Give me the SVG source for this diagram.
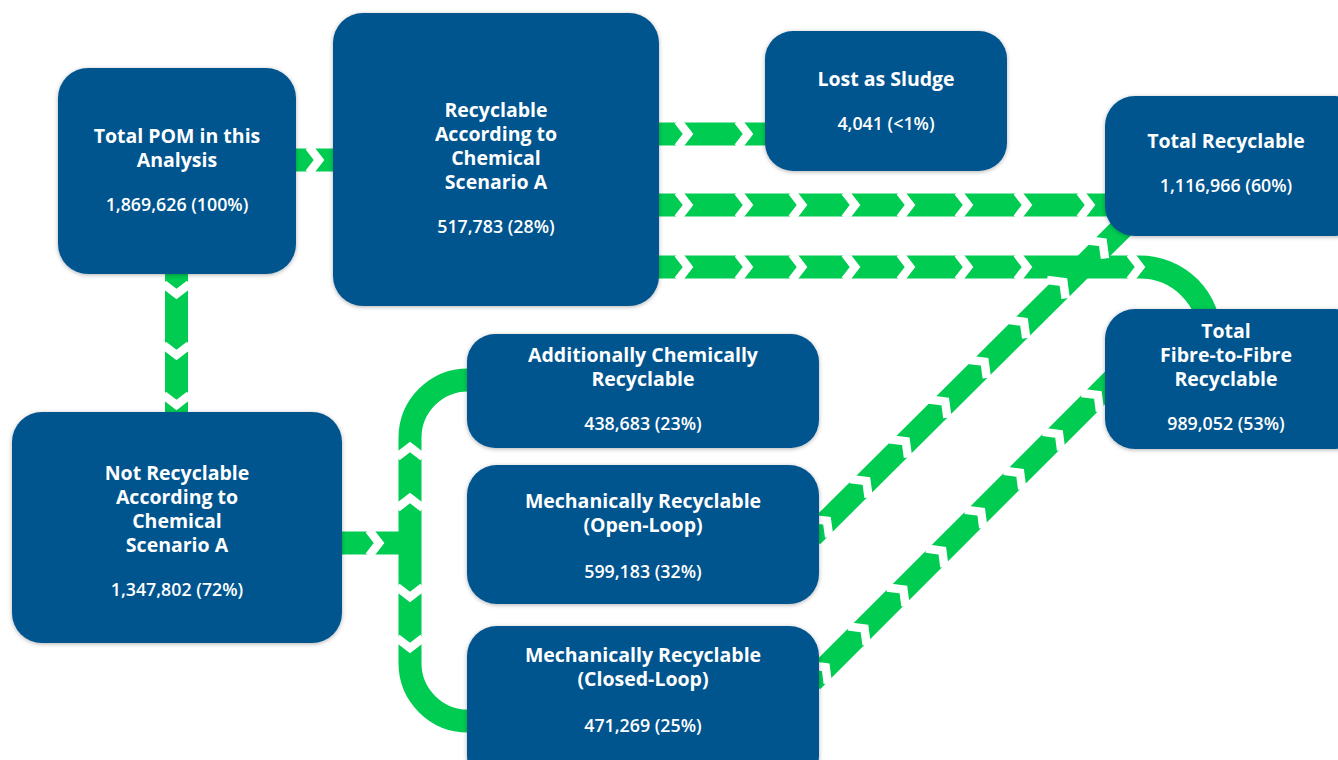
<svg xmlns="http://www.w3.org/2000/svg" xmlns:xlink="http://www.w3.org/1999/xlink" width="1338" height="760" viewBox="0 0 1338 760">
<style>
.band{fill:none;stroke:#00CC52;stroke-width:23;stroke-linecap:butt}
.node{fill:#02548F;filter:url(#sh)}
.t{font-family:"Open Sans","Liberation Sans",sans-serif;font-weight:700;font-size:19.5px;fill:#fff;text-anchor:middle}
.v{font-family:"Open Sans","Liberation Sans",sans-serif;font-weight:600;font-size:17.8px;fill:#fff;text-anchor:middle}
</style>
<defs>
<filter id="sh" x="-10%" y="-10%" width="120%" height="125%">
<feDropShadow dx="0" dy="1" stdDeviation="2" flood-color="#000" flood-opacity="0.3"/>
</filter>
<path id="ch" d="M-10,-13 L0,0 L-10,13" fill="none" stroke="#fff" stroke-width="8.5" stroke-linejoin="miter"/>
</defs>
<rect width="1338" height="760" fill="#fff"/>
<g id="connectors">
<path class="band" d="M290,160 H340"/>
<path class="band" d="M176.5,268 V418"/>
<path class="band" d="M655,134 H770"/>
<path class="band" d="M655,205 H1110"/>
<path class="band" d="M655,267 H1140 A70,70 0 0 1 1210,337"/>
<path class="band" d="M812,536 L1125,225"/>
<path class="band" d="M812,681 L1118,375"/>
<path class="band" d="M336,543 H410"/>
<path class="band" d="M475,380 H468 A58,58 0 0 0 410,438 V663 A58,58 0 0 0 468,721 H475"/>
<use xlink:href="#ch" transform="translate(319,160)"/>
<use xlink:href="#ch" transform="translate(176.5,294) rotate(90)"/>
<use xlink:href="#ch" transform="translate(176.5,355) rotate(90)"/>
<use xlink:href="#ch" transform="translate(176.5,405) rotate(90)"/>
<use xlink:href="#ch" transform="translate(688,134)"/>
<use xlink:href="#ch" transform="translate(748,134)"/>
<use xlink:href="#ch" transform="translate(688,205)"/>
<use xlink:href="#ch" transform="translate(748,205)"/>
<use xlink:href="#ch" transform="translate(802,205)"/>
<use xlink:href="#ch" transform="translate(855,205)"/>
<use xlink:href="#ch" transform="translate(910,205)"/>
<use xlink:href="#ch" transform="translate(968,205)"/>
<use xlink:href="#ch" transform="translate(1027,205)"/>
<use xlink:href="#ch" transform="translate(1090,205)"/>
<use xlink:href="#ch" transform="translate(688,267)"/>
<use xlink:href="#ch" transform="translate(748,267)"/>
<use xlink:href="#ch" transform="translate(802,267)"/>
<use xlink:href="#ch" transform="translate(855,267)"/>
<use xlink:href="#ch" transform="translate(910,267)"/>
<use xlink:href="#ch" transform="translate(968,267)"/>
<use xlink:href="#ch" transform="translate(1027,267)"/>
<use xlink:href="#ch" transform="translate(1140,267)"/>
<use xlink:href="#ch" transform="translate(379,543)"/>
<use xlink:href="#ch" transform="translate(410,447) rotate(-90)"/>
<use xlink:href="#ch" transform="translate(410,498) rotate(-90)"/>
<use xlink:href="#ch" transform="translate(410,597) rotate(90)"/>
<use xlink:href="#ch" transform="translate(410,648) rotate(90)"/>
<use xlink:href="#ch" transform="translate(827,520.9) rotate(-45.3)"/>
<use xlink:href="#ch" transform="translate(866.4,481.1) rotate(-45.3)"/>
<use xlink:href="#ch" transform="translate(905.8,441.3) rotate(-45.3)"/>
<use xlink:href="#ch" transform="translate(945.2,401.5) rotate(-45.3)"/>
<use xlink:href="#ch" transform="translate(984.6,361.7) rotate(-45.3)"/>
<use xlink:href="#ch" transform="translate(1024,321.9) rotate(-45.3)"/>
<use xlink:href="#ch" transform="translate(1063.4,282.1) rotate(-45.3)"/>
<use xlink:href="#ch" transform="translate(1102.8,242.3) rotate(-45.3)"/>
<use xlink:href="#ch" transform="translate(825.7,667.3) rotate(-45)"/>
<use xlink:href="#ch" transform="translate(864.5,628.5) rotate(-45)"/>
<use xlink:href="#ch" transform="translate(903.4,589.6) rotate(-45)"/>
<use xlink:href="#ch" transform="translate(942.3,550.7) rotate(-45)"/>
<use xlink:href="#ch" transform="translate(981.2,511.8) rotate(-45)"/>
<use xlink:href="#ch" transform="translate(1020.1,472.9) rotate(-45)"/>
<use xlink:href="#ch" transform="translate(1059,434) rotate(-45)"/>
<use xlink:href="#ch" transform="translate(1097.9,395.1) rotate(-45)"/>
</g>
<g id="total-pom">
<rect class="node" x="58" y="68" width="238" height="206" rx="30"/>
<text class="t" x="177" y="143">Total POM in this</text>
<text class="t" x="177" y="167">Analysis</text>
<text class="v" x="177" y="211">1,869,626 (100%)</text>
</g>
<g id="recyclable-a">
<rect class="node" x="333" y="13" width="326" height="293" rx="30"/>
<text class="t" x="496" y="117">Recyclable</text>
<text class="t" x="496" y="141">According to</text>
<text class="t" x="496" y="165">Chemical</text>
<text class="t" x="496" y="189">Scenario A</text>
<text class="v" x="496" y="233">517,783 (28%)</text>
</g>
<g id="lost-sludge">
<rect class="node" x="765" y="31" width="242" height="140" rx="28"/>
<text class="t" x="886" y="86">Lost as Sludge</text>
<text class="v" x="886" y="130">4,041 (&lt;1%)</text>
</g>
<g id="total-recyclable">
<rect class="node" x="1105" y="96" width="260" height="140" rx="30"/>
<text class="t" x="1226" y="148">Total Recyclable</text>
<text class="v" x="1226" y="192">1,116,966 (60%)</text>
</g>
<g id="total-f2f">
<rect class="node" x="1105" y="309" width="260" height="140" rx="30"/>
<text class="t" x="1226" y="338">Total</text>
<text class="t" x="1226" y="362">Fibre-to-Fibre</text>
<text class="t" x="1226" y="386">Recyclable</text>
<text class="v" x="1226" y="430">989,052 (53%)</text>
</g>
<g id="add-chem">
<rect class="node" x="467" y="334" width="352" height="114" rx="28"/>
<text class="t" x="643" y="362">Additionally Chemically</text>
<text class="t" x="643" y="386">Recyclable</text>
<text class="v" x="643" y="430">438,683 (23%)</text>
</g>
<g id="mech-open">
<rect class="node" x="467" y="465" width="352" height="139" rx="30"/>
<text class="t" x="643" y="508">Mechanically Recyclable</text>
<text class="t" x="643" y="532">(Open-Loop)</text>
<text class="v" x="643" y="578">599,183 (32%)</text>
</g>
<g id="mech-closed">
<rect class="node" x="467" y="626" width="352" height="160" rx="30"/>
<text class="t" x="643" y="662">Mechanically Recyclable</text>
<text class="t" x="643" y="686">(Closed-Loop)</text>
<text class="v" x="643" y="732">471,269 (25%)</text>
</g>
<g id="not-recyclable">
<rect class="node" x="12" y="412" width="330" height="231" rx="30"/>
<text class="t" x="177" y="480">Not Recyclable</text>
<text class="t" x="177" y="504">According to</text>
<text class="t" x="177" y="528">Chemical</text>
<text class="t" x="177" y="552">Scenario A</text>
<text class="v" x="177" y="596">1,347,802 (72%)</text>
</g>
</svg>
